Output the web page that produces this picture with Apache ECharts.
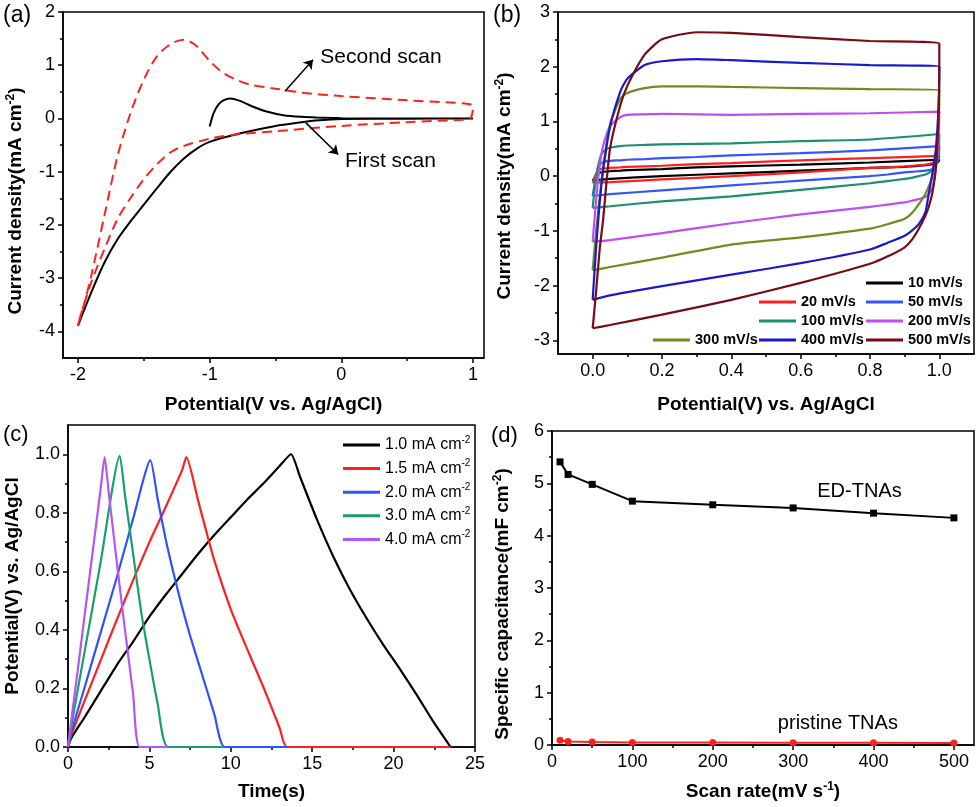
<!DOCTYPE html>
<html>
<head>
<meta charset="utf-8">
<script src="https://cdn.jsdelivr.net/npm/echarts@6/dist/echarts.min.js"></script>
<style>
  html, body { margin: 0; background: #fff; }
  #chart { width: 980px; height: 807px; }
</style>
</head>
<body>
<div id="chart"></div>
<script>
// ---- (a) first / second scan ----
const firstScanV = [-1.0, -0.97, -0.934, -0.896, -0.846, -0.77, -0.67, -0.567, -0.44, -0.31, -0.19, -0.06, 0, 0.5, 1.0, 0.5, 0, -0.2, -0.3, -0.5, -0.75, -1.0, -1.1, -1.2, -1.3, -1.4, -1.5, -1.6, -1.7, -1.8, -1.9, -2.0];
const firstScanJ = [-0.15, 0.1, 0.26, 0.34, 0.375, 0.33, 0.22, 0.13, 0.06, 0.03, 0.02, 0.01, 0.005, 0, 0, -0.005, -0.01, -0.04, -0.07, -0.14, -0.27, -0.44, -0.57, -0.76, -1.01, -1.31, -1.62, -1.93, -2.27, -2.71, -3.27, -3.89];
const secondScanV = [-2.0, -1.95, -1.9, -1.8, -1.7, -1.6, -1.5, -1.4, -1.3, -1.2, -1.17, -1.1, -1.0, -0.9, -0.8, -0.7, -0.5, -0.28, 0, 0.5, 1.0, 0.995, 0.98, 0.95, 0.5, 0, -0.5, -0.8, -1.0, -1.2, -1.3, -1.4, -1.5, -1.6, -1.7, -1.8, -1.9, -2.0];
const secondScanJ = [-3.88, -3.45, -2.96, -1.83, -0.71, 0.11, 0.73, 1.17, 1.39, 1.48, 1.47, 1.36, 1.08, 0.86, 0.73, 0.64, 0.56, 0.48, 0.42, 0.34, 0.24, 0.1, 0.0, -0.02, -0.07, -0.14, -0.24, -0.3, -0.38, -0.52, -0.64, -0.86, -1.14, -1.49, -1.89, -2.46, -3.08, -3.86];
const secondArrow = [[-0.428, 0.51], [-0.215, 1.105]];
const firstArrow = [[-0.269, -0.083], [-0.0235, -0.677]];
const secondLabelAt = [-0.16, 1.16];
const firstLabelAt = [0.027, -0.8];

// ---- (b) CV at scan rates: shared potential path (forward 0 -> 1, back 1 -> 0) ----
const cvPotential = [0, 0.01, 0.02, 0.03, 0.05, 0.08, 0.1, 0.15, 0.2, 0.3, 0.4, 0.6, 0.8, 1.0,
  0.998, 0.99, 0.98, 0.97, 0.96, 0.94, 0.92, 0.9, 0.85, 0.8, 0.6, 0.4, 0.2, 0.05, 0];
const cv10 = [-0.08, 0.0, 0.06, 0.08, 0.09, 0.1, 0.11, 0.12, 0.13, 0.16, 0.18, 0.21, 0.25, 0.3,
  0.27, 0.24, 0.22, 0.21, 0.2, 0.19, 0.18, 0.17, 0.16, 0.15, 0.1, 0.05, 0.0, -0.05, -0.08];
const cv20 = [-0.12, 0.05, 0.12, 0.14, 0.15, 0.16, 0.17, 0.18, 0.19, 0.22, 0.24, 0.29, 0.33, 0.37,
  0.33, 0.27, 0.24, 0.22, 0.21, 0.2, 0.19, 0.18, 0.16, 0.15, 0.07, 0.0, -0.06, -0.11, -0.12];
const cv50 = [-0.36, 0.0, 0.2, 0.26, 0.28, 0.29, 0.3, 0.31, 0.33, 0.35, 0.38, 0.42, 0.47, 0.55,
  0.35, 0.2, 0.13, 0.11, 0.1, 0.09, 0.08, 0.07, 0.03, 0.0, -0.08, -0.17, -0.26, -0.33, -0.36];
const cv100 = [-0.58, 0.0, 0.3, 0.45, 0.52, 0.55, 0.56, 0.57, 0.58, 0.59, 0.6, 0.64, 0.67, 0.77,
  0.45, 0.24, 0.12, 0.06, 0.03, 0.0, -0.03, -0.05, -0.09, -0.13, -0.25, -0.37, -0.46, -0.55, -0.58];
const cv200 = [-1.2, -0.43, 0.18, 0.55, 0.91, 1.08, 1.12, 1.13, 1.14, 1.13, 1.12, 1.14, 1.15, 1.18,
  0.7, 0.15, -0.22, -0.32, -0.38, -0.42, -0.45, -0.48, -0.52, -0.56, -0.7, -0.86, -1.04, -1.17, -1.2];
const cv300 = [-1.72, -1.0, -0.4, 0.15, 0.95, 1.42, 1.52, 1.61, 1.64, 1.64, 1.63, 1.61, 1.59, 1.58,
  1.0, 0.4, 0.0, -0.18, -0.32, -0.52, -0.68, -0.78, -0.88, -0.96, -1.12, -1.25, -1.49, -1.66, -1.72];
const cv400 = [-2.26, -1.3, -0.5, 0.1, 0.9, 1.55, 1.78, 2.03, 2.1, 2.14, 2.12, 2.07, 2.03, 2.0,
  1.3, 0.5, 0.05, -0.3, -0.65, -0.88, -1.0, -1.09, -1.22, -1.34, -1.59, -1.8, -2.01, -2.18, -2.26];
const cv500 = [-2.78, -2.1, -1.35, -0.8, 0.5, 1.3, 1.65, 2.22, 2.5, 2.63, 2.62, 2.54, 2.47, 2.42,
  1.2, 0.15, -0.3, -0.55, -0.72, -0.97, -1.17, -1.3, -1.47, -1.6, -1.95, -2.26, -2.53, -2.72, -2.78];
const cvRates = ['10 mV/s', '20 mV/s', '50 mV/s', '100 mV/s', '200 mV/s', '300 mV/s', '400 mV/s', '500 mV/s'];
const cvCurrents = [cv10, cv20, cv50, cv100, cv200, cv300, cv400, cv500];

// ---- (c) charge / discharge ----
const gcd10T = [0, 0.2, 1, 2, 3, 4, 5, 6, 7, 8, 9, 10, 11, 12, 13, 13.7, 14.24, 15.27, 16.3, 17.3, 18.34, 19.36, 20.4, 21.4, 22.4, 23.5];
const gcd10V = [0, 0.03, 0.1, 0.19, 0.28, 0.36, 0.445, 0.52, 0.59, 0.66, 0.725, 0.785, 0.845, 0.9, 0.96, 1.0, 0.925, 0.78, 0.65, 0.54, 0.44, 0.35, 0.265, 0.18, 0.09, 0];
const gcd15T = [0, 0.2, 1, 2, 3, 4, 5, 6, 7, 7.27, 8, 8.6, 9, 10, 11, 12, 13, 13.46, 23.5];
const gcd15V = [0, 0.04, 0.155, 0.295, 0.435, 0.57, 0.7, 0.82, 0.945, 0.99, 0.84, 0.715, 0.635, 0.47, 0.335, 0.205, 0.065, 0, 0];
const gcd20T = [0, 0.2, 1, 2, 3, 4, 5.06, 5.5, 6, 6.5, 7, 7.5, 8, 8.5, 9, 9.63, 13.46];
const gcd20V = [0, 0.05, 0.2, 0.39, 0.58, 0.78, 0.98, 0.85, 0.71, 0.59, 0.48, 0.38, 0.29, 0.2, 0.11, 0, 0];
const gcd30T = [0, 0.2, 1, 2, 3.18, 3.5, 4, 4.5, 5, 5.5, 6.15, 9.63];
const gcd30V = [0, 0.07, 0.32, 0.63, 0.995, 0.86, 0.66, 0.46, 0.3, 0.15, 0, 0];
const gcd40T = [0, 0.2, 0.5, 1, 1.5, 2, 2.25, 2.5, 3, 3.5, 4, 4.41, 6.15];
const gcd40V = [0, 0.09, 0.22, 0.44, 0.66, 0.88, 0.99, 0.87, 0.63, 0.4, 0.18, 0, 0];
const gcdNames = ['1.0 mA cm-2', '1.5 mA cm-2', '2.0 mA cm-2', '3.0 mA cm-2', '4.0 mA cm-2'];
const gcdTimes = [gcd10T, gcd15T, gcd20T, gcd30T, gcd40T];
const gcdPotentials = [gcd10V, gcd15V, gcd20V, gcd30V, gcd40V];

// ---- (d) capacitance vs scan rate ----
const scanRate = [10, 20, 50, 100, 200, 300, 400, 500];
const edTNAs = [5.41, 5.17, 4.98, 4.66, 4.59, 4.53, 4.43, 4.34];
const pristineTNAs = [0.09, 0.065, 0.055, 0.05, 0.05, 0.045, 0.045, 0.04];
const edLabelAt = [330, 4.85];
const pristineLabelAt = [281, 0.42];

// ---- ticks ----
const aTicksX = [-2, -1, 0, 1], aMinorX = [-1.5, -0.5, 0.5];
const aTicksY = [-4, -3, -2, -1, 0, 1, 2], aMinorY = [-3.5, -2.5, -1.5, -0.5, 0.5, 1.5];
const bTicksX = [0, 0.2, 0.4, 0.6, 0.8, 1.0], bMinorX = [0.1, 0.3, 0.5, 0.7, 0.9];
const bTicksY = [-3, -2, -1, 0, 1, 2, 3], bMinorY = [-2.5, -1.5, -0.5, 0.5, 1.5, 2.5];
const cTicksX = [0, 5, 10, 15, 20, 25], cMinorX = [2.5, 7.5, 12.5, 17.5, 22.5];
const cTicksY = [0, 0.2, 0.4, 0.6, 0.8, 1.0], cMinorY = [0.1, 0.3, 0.5, 0.7, 0.9];
const dTicksX = [0, 100, 200, 300, 400, 500], dMinorX = [50, 150, 250, 350, 450];
const dTicksY = [0, 1, 2, 3, 4, 5, 6], dMinorY = [0.5, 1.5, 2.5, 3.5, 4.5, 5.5];

const FONT = '"Liberation Sans", Arial, Helvetica, sans-serif';
const cvColors = ['#000000', '#ff1f1f', '#3355ff', '#1a9070', '#c04cf5', '#6b8e1e', '#1a1acc', '#7a0a14'];
const gcdColors = ['#000000', '#ff1f1f', '#2f52ff', '#17a06a', '#b455f5'];

const zip = (xs, ys) => xs.map((x, i) => [x, ys[i]]);

const titleRich = {
  t: { fontSize: 19, fontWeight: 'bold', fontFamily: FONT, color: '#000', lineHeight: 22 },
  s: { fontSize: 12, fontWeight: 'bold', fontFamily: FONT, color: '#000', lineHeight: 12, verticalAlign: 'top' },
};

function mainAxis(grid, min, max, ticks, fmt, name, gap, rotate, padding) {
  return {
    type: 'value', gridIndex: grid, min, max,
    axisLine: { show: true, onZero: false, lineStyle: { color: '#000', width: 1.5 } },
    axisTick: { show: true, customValues: ticks, length: 5, lineStyle: { color: '#000', width: 1.5 } },
    axisLabel: { customValues: ticks, formatter: fmt, color: '#000', fontSize: 18, fontFamily: FONT, margin: 8 },
    splitLine: { show: false },
    name, nameLocation: 'middle', nameGap: gap, nameRotate: rotate,
    nameTextStyle: { rich: titleRich, padding: padding || 0 },
  };
}

function minorAxis(grid, min, max, ticks, position) {
  return {
    type: 'value', gridIndex: grid, min, max, position,
    axisLine: { show: false, onZero: false },
    axisTick: { show: true, customValues: ticks, length: 3, lineStyle: { color: '#000', width: 1.5 } },
    axisLabel: { show: false },
    splitLine: { show: false },
  };
}

const fix1 = (v) => v.toFixed(1);
const plain = (v) => String(v);

const xAxes = [
  mainAxis(0, -2.114, 1.0835, aTicksX, plain, '{t|Potential(V vs. Ag/AgCl)}', 36, 0),
  minorAxis(0, -2.114, 1.0835, aMinorX, 'bottom'),
  mainAxis(1, -0.1, 1.1, bTicksX, fix1, '{t|Potential(V) vs. Ag/AgCl}', 40, 0),
  minorAxis(1, -0.1, 1.1, bMinorX, 'bottom'),
  mainAxis(2, 0, 25, cTicksX, plain, '{t|Time(s)}', 34, 0),
  minorAxis(2, 0, 25, cMinorX, 'bottom'),
  mainAxis(3, 0, 525, dTicksX, plain, '{t|Scan rate(mV s}{s|-1}{t|)}', 36, 0),
  minorAxis(3, 0, 525, dMinorX, 'bottom'),
];
const yAxes = [
  mainAxis(0, -4.5, 2, aTicksY, plain, '{t|Current density(mA cm}{s|-2}{t|)}', 36, 90, [0, 32, 0, 0]),
  minorAxis(0, -4.5, 2, aMinorY, 'left'),
  mainAxis(1, -3.25, 3, bTicksY, plain, '{t|Current density(mA cm}{s|-2}{t|)}', 42, 90, [0, 6, 0, 0]),
  minorAxis(1, -3.25, 3, bMinorY, 'left'),
  mainAxis(2, 0, 1.1, cTicksY, fix1, '{t|Potential(V) vs. Ag/AgCl}', 44, 90),
  minorAxis(2, 0, 1.1, cMinorY, 'left'),
  mainAxis(3, 0, 6, dTicksY, plain, '{t|Specific capacitance(mF cm}{s|-2}{t|)}', 38, 90, [0, 32, 0, 0]),
  minorAxis(3, 0, 6, dMinorY, 'left'),
];

const noteLabel = { color: '#000', fontSize: 21, fontFamily: FONT };
const arrowLine = (pair) => [{ coord: pair[0] }, { coord: pair[1] }];

const series = [
  {
    name: 'First scan', type: 'line', xAxisIndex: 0, yAxisIndex: 0,
    data: zip(firstScanV, firstScanJ), symbol: 'none', smooth: 0.3,
    lineStyle: { color: '#000', width: 2 },
    markLine: {
      silent: true, symbol: ['none', 'arrow'], symbolSize: 9,
      lineStyle: { color: '#000', width: 1.5, type: 'solid' }, label: { show: false },
      data: [arrowLine(secondArrow), arrowLine(firstArrow)],
    },
    markPoint: {
      silent: true, symbol: 'circle', symbolSize: 0,
      label: { show: true, position: 'right', distance: 0, formatter: (p) => p.name, ...noteLabel },
      data: [{ name: 'Second scan', coord: secondLabelAt }, { name: 'First scan', coord: firstLabelAt }],
    },
  },
  {
    name: 'Second scan', type: 'line', xAxisIndex: 0, yAxisIndex: 0,
    data: zip(secondScanV, secondScanJ), symbol: 'none', smooth: 0.3,
    lineStyle: { color: '#ff2020', width: 2, type: [10, 6] },
  },
];

cvRates.forEach((name, i) => {
  series.push({
    name, type: 'line', xAxisIndex: 2, yAxisIndex: 2,
    data: zip(cvPotential, cvCurrents[i]), symbol: 'none', smooth: 0.2,
    lineStyle: { color: cvColors[i], width: 2.2 }, itemStyle: { color: cvColors[i] },
  });
});

gcdNames.forEach((name, i) => {
  series.push({
    name, type: 'line', xAxisIndex: 4, yAxisIndex: 4,
    data: zip(gcdTimes[i], gcdPotentials[i]), symbol: 'none', smooth: 0.2,
    lineStyle: { color: gcdColors[i], width: 2.2 }, itemStyle: { color: gcdColors[i] },
  });
});

series.push({
  name: 'ED-TNAs', type: 'line', xAxisIndex: 6, yAxisIndex: 6,
  data: zip(scanRate, edTNAs), symbol: 'rect', symbolSize: 7,
  lineStyle: { color: '#000', width: 2 }, itemStyle: { color: '#000' },
  markPoint: {
    silent: true, symbol: 'circle', symbolSize: 0,
    label: { show: true, position: 'right', distance: 0, formatter: (p) => p.name, ...noteLabel, fontSize: 20 },
    data: [{ name: 'ED-TNAs', coord: edLabelAt }, { name: 'pristine TNAs', coord: pristineLabelAt }],
  },
});
series.push({
  name: 'pristine TNAs', type: 'line', xAxisIndex: 6, yAxisIndex: 6,
  data: zip(scanRate, pristineTNAs), symbol: 'circle', symbolSize: 7,
  lineStyle: { color: '#ff2020', width: 2 }, itemStyle: { color: '#ff2020' },
});

// legend slots for panel (b): [left, top] of each item
const cvLegendSlots = [[866, 274], [759, 293], [866, 293], [759, 312], [866, 312], [653, 331], [759, 331], [866, 331]];
const legends = cvRates.map((name, i) => ({
  data: [name], left: cvLegendSlots[i][0], top: cvLegendSlots[i][1], padding: 0,
  icon: 'rect', itemWidth: 37, itemHeight: 3, itemGap: 0,
  textStyle: { color: '#000', fontSize: 14.5, fontWeight: 'bold', fontFamily: FONT, lineHeight: 18 },
}));
legends.push({
  data: gcdNames, left: 343, top: 435, orient: 'vertical', padding: 0,
  icon: 'rect', itemWidth: 37, itemHeight: 3, itemGap: 5.6,
  formatter: (n) => '{t|' + n.replace('-2', '') + '}{s|-2}',
  textStyle: {
    rich: {
      t: { fontSize: 16, fontFamily: FONT, color: '#000', lineHeight: 20 },
      s: { fontSize: 10, fontFamily: FONT, color: '#000', lineHeight: 10, verticalAlign: 'top' },
    },
  },
});

const panelTag = (text, x, y, size) => ({
  type: 'text', left: x, top: y,
  style: { text, fill: '#000', font: size + 'px ' + FONT },
});

const gridBox = { show: true, borderColor: '#000', borderWidth: 1.5, backgroundColor: 'transparent', containLabel: false };

const chart = echarts.init(document.getElementById('chart'));
chart.setOption({
  animation: false,
  backgroundColor: '#fff',
  grid: [
    { ...gridBox, left: 63, top: 12, width: 421, height: 346 },
    { ...gridBox, left: 558, top: 12, width: 416, height: 342 },
    { ...gridBox, left: 68, top: 425, width: 407, height: 322 },
    { ...gridBox, left: 552, top: 431, width: 422, height: 314 },
  ],
  xAxis: xAxes,
  yAxis: yAxes,
  legend: legends,
  graphic: [
    panelTag('(a)', 3, 4, 23),
    panelTag('(b)', 493, 4, 23),
    panelTag('(c)', 3, 424, 22),
    panelTag('(d)', 491, 425, 22),
  ],
  series,
});
</script>
</body>
</html>
